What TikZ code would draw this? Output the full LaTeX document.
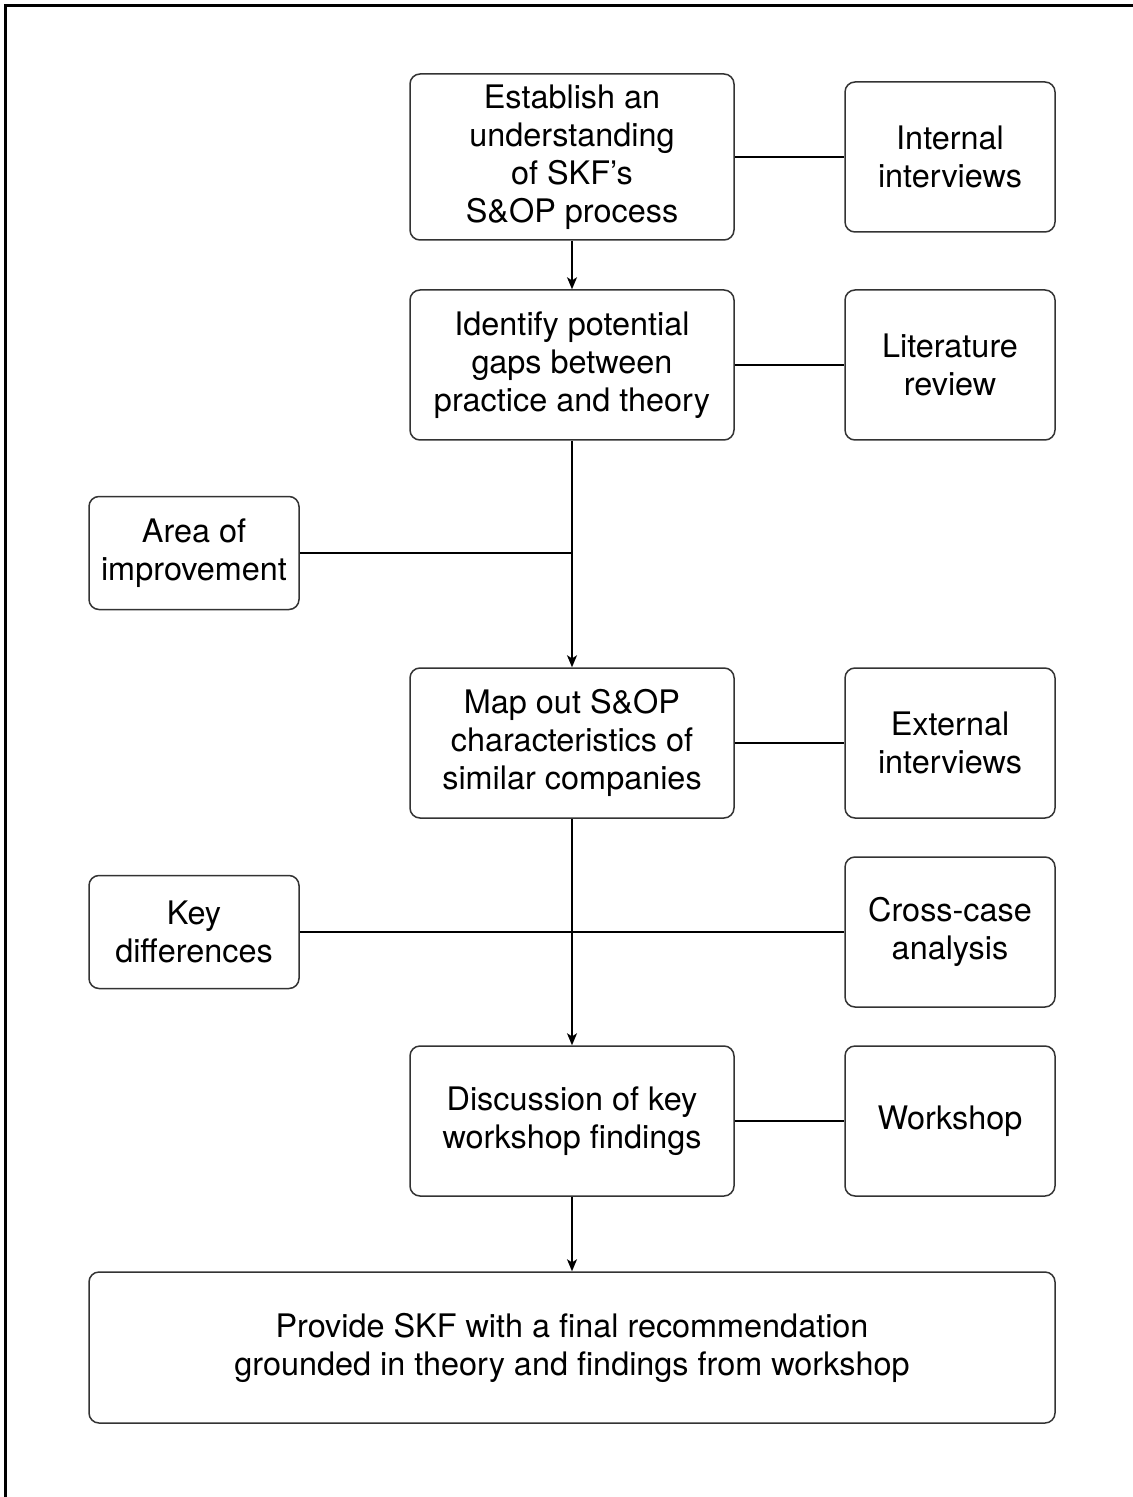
\documentclass[tikz,border=0pt]{standalone}
\usepackage{fontspec}
\setmainfont{TeX Gyre Heros}
\usetikzlibrary{arrows.meta}
\begin{document}
\begin{tikzpicture}[x=0.5pt,y=-0.5pt,
  box/.style={draw=black!80, line width=0.75pt, rounded corners=5pt, align=center, inner sep=0pt,
    font=\fontsize{16.2pt}{19pt}\selectfont},
  mainbox/.style={box, minimum width=162pt, minimum height=75pt},
  sidebox/.style={box, minimum width=105pt, minimum height=75pt},
  leftbox/.style={box, minimum width=105pt, minimum height=56.5pt},
  conn/.style={line width=0.75pt, black},
  arr/.style={conn, -{Stealth[length=6pt,width=5pt,inset=1.6pt]}}]
\useasboundingbox (0,0) rectangle (1132,1497);
\draw[line width=1.6pt] (1140,5.5) -- (5.5,5.5) -- (5.5,1505);

\node[mainbox, minimum height=83pt] (A) at (572,157) {Establish an\\understanding\\of SKF’s\\S\&OP process};
\node[sidebox] (II) at (950,157) {Internal\\interviews};
\node[mainbox] (B) at (572,365) {Identify potential\\gaps between\\practice and theory};
\node[sidebox] (LR) at (950,365) {Literature\\review};
\node[leftbox] (AI) at (194,553) {Area of\\improvement};
\node[mainbox] (C) at (572,743) {Map out S\&OP\\characteristics of\\similar companies};
\node[sidebox] (EI) at (950,743) {External\\interviews};
\node[leftbox] (KD) at (194,932) {Key\\differences};
\node[sidebox] (CC) at (950,932) {Cross-case\\analysis};
\node[mainbox] (D) at (572,1121) {Discussion of key\\workshop findings};
\node[sidebox] (WS) at (950,1121) {Workshop};
\node[box, minimum width=483pt, minimum height=75.5pt] (E) at (572,1347.5) {Provide SKF with a final recommendation\\grounded in theory and findings from workshop};

\coordinate (J1) at (B.south |- AI.east);
\draw[arr] (A) -- (B);
\draw[conn] (A) -- (II);
\draw[conn] (B) -- (LR);
\draw[arr] (B) -- (C);
\draw[conn] (AI) -- (J1);
\draw[conn] (C) -- (EI);
\draw[arr] (C) -- (D);
\draw[conn] (KD) -- (CC);
\draw[conn] (D) -- (WS);
\draw[arr] (D) -- (E);
\end{tikzpicture}
\end{document}
